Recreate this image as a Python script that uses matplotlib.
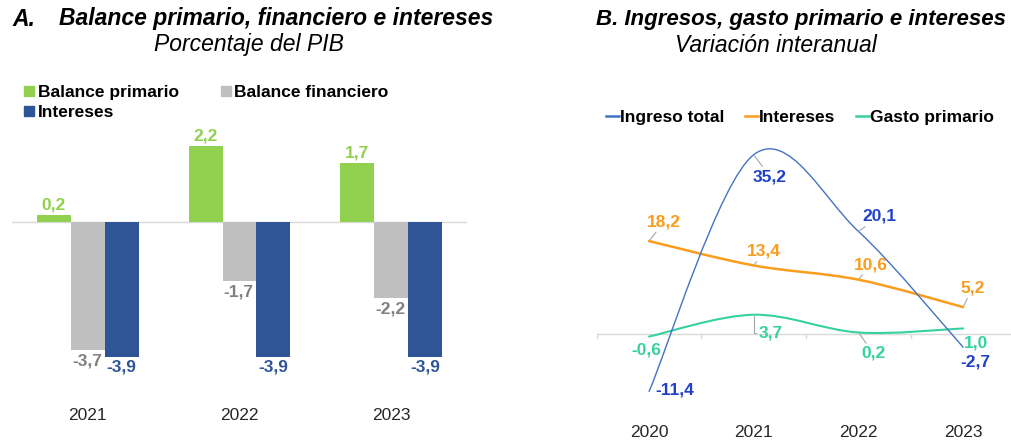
import numpy as np
import matplotlib
matplotlib.use('Agg')
import matplotlib.pyplot as plt
from matplotlib.path import Path
from matplotlib.patches import PathPatch
from matplotlib.lines import Line2D

plt.rcParams['font.family'] = ['Liberation Sans', 'DejaVu Sans']

# panel A data (% del PIB)
years_a = ['2021', '2022', '2023']
bal_primario = [0.2, 2.2, 1.7]
bal_financiero = [-3.7, -1.7, -2.2]
intereses_a = [-3.9, -3.9, -3.9]

# panel B data (variación interanual)
years_b = ['2020', '2021', '2022', '2023']
ingreso_total = [-11.4, 35.2, 20.1, -2.7]
intereses_b = [18.2, 13.4, 10.6, 5.2]
gasto_primario = [-0.6, 3.7, 0.2, 1.0]

green = '#92D050'
grey = '#BFBFBF'
navy = '#2F5597'
c_ing, c_ing_lab = '#4472C4', '#2040CC'
c_int = '#FA9C1E'
c_gas = '#36D1A0'
fs = 12.5

fig = plt.figure(figsize=(10.12, 4.4), dpi=100)
W, H = 1012, 440


def fx(px):
    return px / W


def fy(py):
    return 1 - py / H


def fmt(v):
    return f'{v:.1f}'.replace('.', ',')


# titles
fig.text(fx(12), fy(19), 'A.', fontsize=16.5, fontweight='bold', style='italic', va='center', ha='left')
fig.text(fx(59), fy(19), 'Balance primario, financiero e intereses', fontsize=16.5,
         fontweight='bold', style='italic', va='center', ha='left')
fig.text(fx(249), fy(45), 'Porcentaje del PIB', fontsize=16.5, style='italic', va='center', ha='center')
fig.text(fx(1006), fy(19), 'B. Ingresos, gasto primario e intereses', fontsize=16,
         fontweight='bold', style='italic', va='center', ha='right')
fig.text(fx(776), fy(45), 'Variación interanual', fontsize=16.5, style='italic', va='center', ha='center')

# ---- panel A
ax0 = fig.add_axes([fx(12), fy(395), fx(455), 320 / H])
ax0.set_xlim(-0.5, 2.5)
ax0.set_ylim(-5.01, 4.26)
x = np.arange(len(years_a))
bw = 0.224
ax0.bar(x - bw, bal_primario, bw, color=green, label='Balance primario')
ax0.bar(x, bal_financiero, bw, color=grey, label='Balance financiero')
ax0.bar(x + bw, intereses_a, bw, color=navy, label='Intereses')
ax0.axhline(0, color='#d9d9d9', lw=1, zorder=0)

for xi, v in zip(x, bal_primario):
    ax0.annotate(fmt(v), (xi - bw, v), xytext=(0, 3), textcoords='offset pixels',
                 ha='center', va='bottom', color=green, fontsize=fs, fontweight='bold')
for xi, v in zip(x, bal_financiero):
    ax0.annotate(fmt(v), (xi, v), xytext=(-1, -4), textcoords='offset pixels',
                 ha='center', va='top', color='#808080', fontsize=fs, fontweight='bold')
for xi, v in zip(x, intereses_a):
    ax0.annotate(fmt(v), (xi + bw, v), xytext=(0, -3), textcoords='offset pixels',
                 ha='center', va='top', color=navy, fontsize=fs, fontweight='bold')

ax0.set_xticks(x)
ax0.set_xticklabels(years_a, fontsize=fs, color='#262626')
ax0.tick_params(axis='x', length=0, pad=9)
ax0.set_yticks([])
for s in ax0.spines.values():
    s.set_visible(False)

h_a = [Line2D([], [], marker='s', ms=6.5, ls='none', color=c) for c in (green, navy, grey)]
fig.legend(h_a, ['Balance primario', 'Intereses', 'Balance financiero'], ncol=2,
           loc='upper left', bbox_to_anchor=(fx(24), fy(85)), frameon=False,
           borderpad=0, borderaxespad=0, handlelength=0.6, handletextpad=0.2,
           columnspacing=2.4, labelspacing=0.25,
           prop={'size': fs, 'weight': 'bold'})

# ---- panel B
ax1 = fig.add_axes([fx(596.7), fy(415), fx(418.8), 320 / H])
ax1.set_xlim(-0.5, 3.5)
ax1.set_ylim(-16.04, 46.95)
ax1.axhline(0, color='#d9d9d9', lw=1, zorder=0)
y0 = (0 - ax1.get_ylim()[0]) / (ax1.get_ylim()[1] - ax1.get_ylim()[0])
for b in np.arange(-0.5, len(years_b), 1.0):
    ax1.axvline(b, ymin=y0 - 4 / 320, ymax=y0, color='#d9d9d9', lw=1, zorder=0)


def smooth_line(ax, vals, color, lw):
    # Excel-like smoothed line as cubic Bezier segments
    xs = np.arange(len(vals), dtype=float)
    ys = np.asarray(vals, dtype=float)
    n = len(vals)
    verts = [(xs[0], ys[0])]
    codes = [Path.MOVETO]
    for i in range(n - 1):
        ip, inn = max(i - 1, 0), min(i + 2, n - 1)
        c1 = (xs[i] + (xs[i + 1] - xs[ip]) / 6, ys[i] + (ys[i + 1] - ys[ip]) / 6)
        c2 = (xs[i + 1] - (xs[inn] - xs[i]) / 6, ys[i + 1] - (ys[inn] - ys[i]) / 6)
        verts += [c1, c2, (xs[i + 1], ys[i + 1])]
        codes += [Path.CURVE4] * 3
    ax.add_patch(PathPatch(Path(verts, codes), fill=False, edgecolor=color, lw=lw,
                           capstyle='round', joinstyle='round'))


smooth_line(ax1, gasto_primario, c_gas, 1.5)
smooth_line(ax1, intereses_b, c_int, 1.8)
smooth_line(ax1, ingreso_total, c_ing, 1.0)

lead = dict(arrowstyle='-', color='#a6a6a6', lw=0.8, shrinkA=0, shrinkB=1)


def lab(i, v, dx, dy, color, leader=False, **kw):
    ap = None
    if leader:
        ap = dict(lead)
        ap.update(kw)
    ax1.annotate(fmt(v), (i, v), xytext=(dx, dy), textcoords='offset pixels',
                 ha='center', va='center', color=color, fontsize=fs,
                 fontweight='bold', arrowprops=ap)


off_ing = [(26, 1, False), (16, -22, True), (21, 15, True), (12, -15, False)]
off_int = [(15, 19, True), (10, 14, True), (12, 15, True), (9, 19, True)]
off_gas = [(-3, -13, False), (17, -18, True), (15, -21, True), (13, -15, False)]

for i, (v, (dx, dy, ld)) in enumerate(zip(ingreso_total, off_ing)):
    lab(i, v, dx, dy, c_ing_lab, ld)
for i, (v, (dx, dy, ld)) in enumerate(zip(intereses_b, off_int)):
    lab(i, v, dx, dy, c_int, ld)
for i, (v, (dx, dy, ld)) in enumerate(zip(gasto_primario, off_gas)):
    if i == 1:
        lab(i, v, dx, dy, c_gas, ld, relpos=(0, 0.5),
            connectionstyle='angle,angleA=0,angleB=90,rad=0')
    else:
        lab(i, v, dx, dy, c_gas, ld)

ax1.set_xticks(range(len(years_b)))
ax1.set_xticklabels(years_b, fontsize=fs, color='#262626')
ax1.tick_params(axis='x', length=0, pad=7)
ax1.set_yticks([])
for s in ax1.spines.values():
    s.set_visible(False)

h_b = [Line2D([], [], color=c, lw=1.8) for c in (c_ing, c_int, c_gas)]
fig.legend(h_b, ['Ingreso total', 'Intereses', 'Gasto primario'], ncol=3,
           loc='upper left', bbox_to_anchor=(fx(606), fy(110)), frameon=False,
           borderpad=0, borderaxespad=0, handlelength=0.75, handletextpad=0.05,
           columnspacing=1.2, prop={'size': fs, 'weight': 'bold'})

fig.savefig('out.png', dpi=100)
